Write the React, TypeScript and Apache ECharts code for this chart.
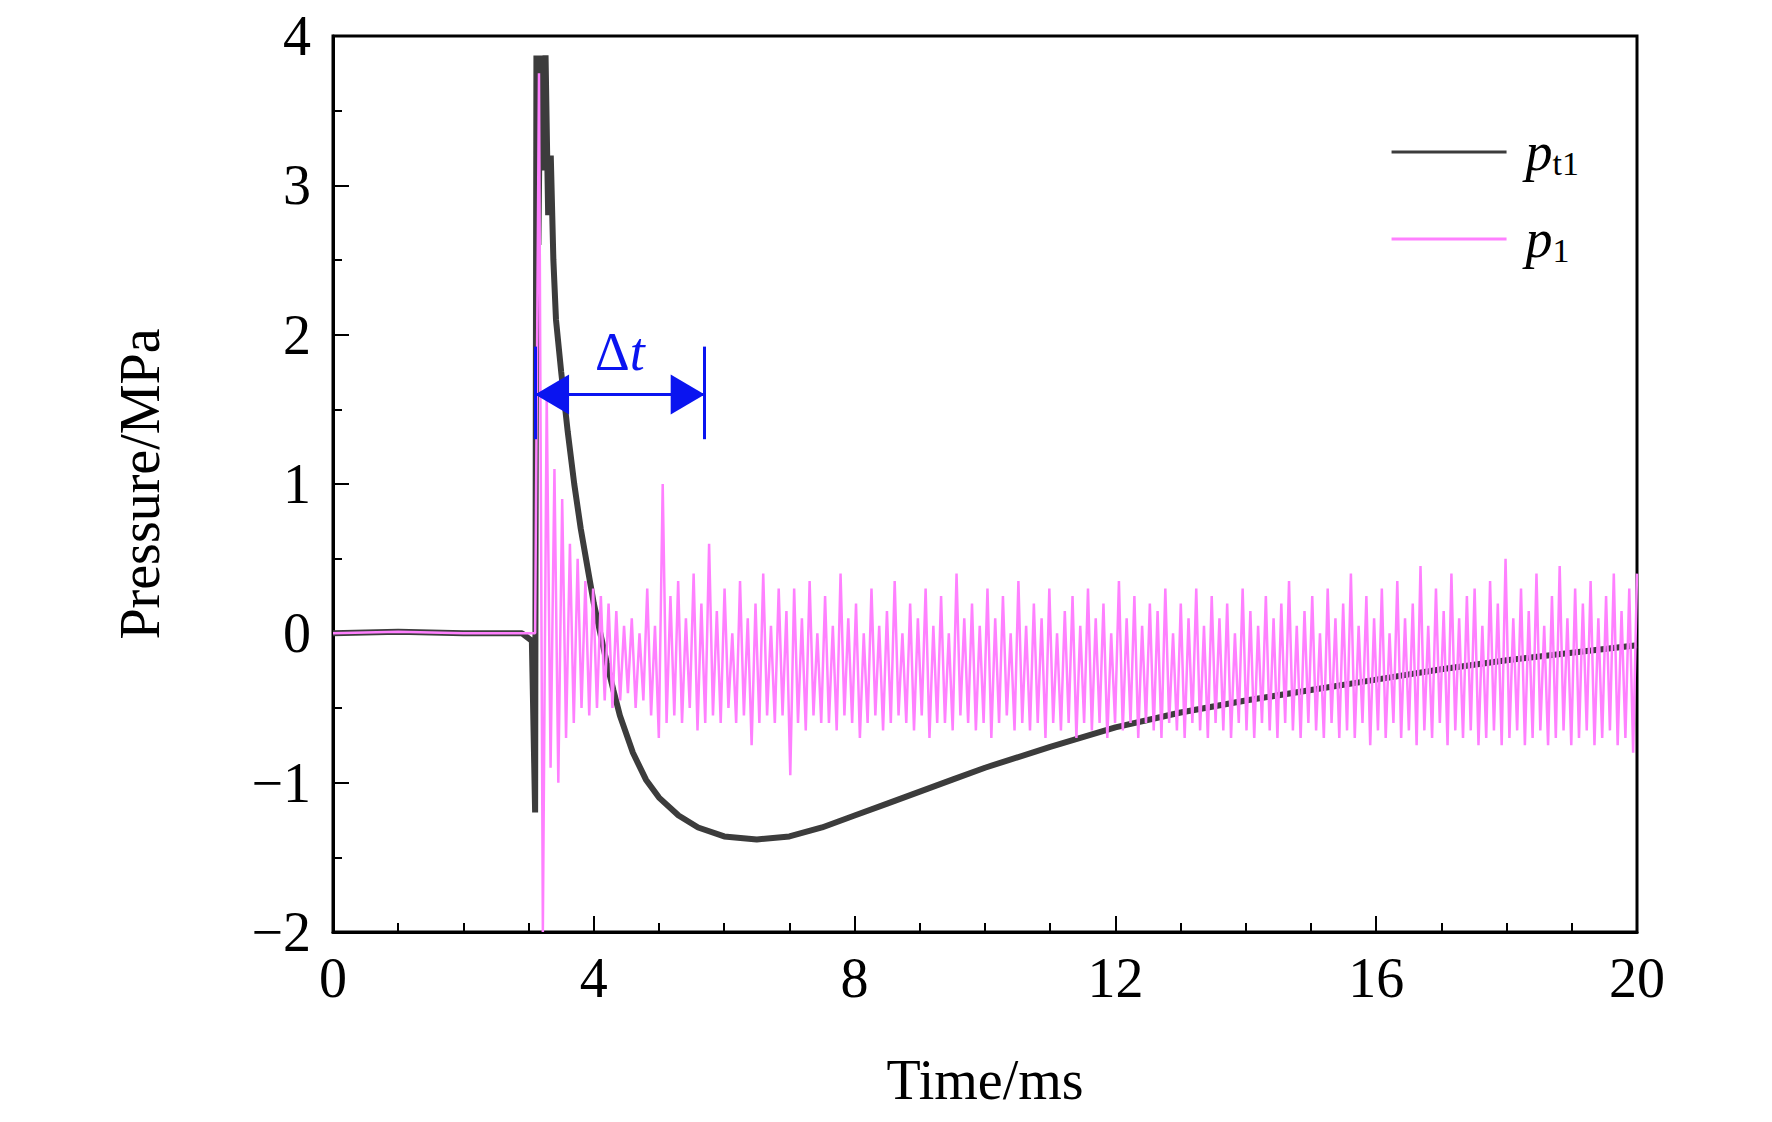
import React, { useEffect, useRef } from 'react';
import * as echarts from 'echarts';

// p_t1 samples (time ms, pressure MPa)
const pt1Time = [0, 1, 2, 2.9, 3.05, 3.1, 3.12, 3.15, 3.18, 3.22, 3.26, 3.3, 3.34, 3.38, 3.42, 3.5, 3.6, 3.7, 3.8, 3.9, 4.0, 4.1, 4.2, 4.3, 4.4, 4.6, 4.8, 5.0, 5.3, 5.6, 6.0, 6.5, 7.0, 7.5, 8.0, 8.5, 9.0, 9.5, 10.0, 11.0, 12.0, 13.0, 14.0, 15.0, 16.0, 17.0, 18.0, 19.0, 20.0];
const pt1Value = [0, 0.01, 0, 0, -0.05, -1.2, 3.87, 2.6, 3.87, 3.1, 3.87, 2.8, 3.2, 2.5, 2.1, 1.75, 1.35, 1.0, 0.7, 0.45, 0.2, 0.0, -0.2, -0.38, -0.55, -0.8, -0.98, -1.1, -1.22, -1.3, -1.36, -1.38, -1.36, -1.3, -1.22, -1.14, -1.06, -0.98, -0.9, -0.76, -0.63, -0.53, -0.45, -0.38, -0.31, -0.24, -0.18, -0.13, -0.08];

// p_1 samples: flat before 3.1 ms, then evenly spaced samples from 3.1 ms to 20 ms
const p1PreTime = [0, 1, 2, 3.0];
const p1PreValue = [0, 0.01, 0, 0];
const p1Start = 3.1;
const p1End = 20;
const p1Value = [
  0, 3.75, -2.0, 1.6, -0.9, 1.1, -1.0, 0.9, -0.7, 0.6, -0.6, 0.5, -0.5, 0.35, -0.55, 0.3,
  -0.5, 0.25, -0.45, 0.2, -0.5, 0.15, -0.45, 0.05, -0.4, 0.1, -0.5, 0.0, -0.45, 0.3, -0.55, 0.05,
  -0.7, 1.0, -0.6, 0.25, -0.55, 0.35, -0.6, 0.1, -0.5, 0.4, -0.65, 0.2, -0.6, 0.6, -0.55, 0.15,
  -0.6, 0.3, -0.5, 0.0, -0.6, 0.35, -0.55, 0.1, -0.75, 0.2, -0.6, 0.4, -0.55, 0.05, -0.6, 0.3,
  -0.55, 0.15, -0.95, 0.3, -0.6, 0.1, -0.65, 0.35, -0.55, 0.0, -0.6, 0.25, -0.6, 0.05, -0.65, 0.4,
  -0.55, 0.1, -0.6, 0.2, -0.7, 0.0, -0.6, 0.3, -0.55, 0.05, -0.65, 0.15, -0.6, 0.35, -0.55, 0.0,
  -0.6, 0.2, -0.65, 0.1, -0.55, 0.3, -0.7, 0.05, -0.6, 0.25, -0.6, 0.0, -0.65, 0.4, -0.55, 0.1,
  -0.6, 0.2, -0.65, 0.05, -0.6, 0.3, -0.7, 0.1, -0.6, 0.25, -0.55, 0.0, -0.65, 0.35, -0.6, 0.05,
  -0.65, 0.2, -0.6, 0.1, -0.7, 0.3, -0.6, 0.0, -0.65, 0.15, -0.6, 0.25, -0.7, 0.05, -0.6, 0.3,
  -0.65, 0.1, -0.6, 0.2, -0.7, 0.0, -0.6, 0.35, -0.65, 0.1, -0.6, 0.25, -0.7, 0.05, -0.6, 0.2,
  -0.65, 0.15, -0.7, 0.3, -0.6, 0.0, -0.65, 0.2, -0.7, 0.1, -0.6, 0.3, -0.65, 0.05, -0.7, 0.25,
  -0.6, 0.1, -0.65, 0.2, -0.7, 0.0, -0.6, 0.3, -0.65, 0.15, -0.7, 0.05, -0.6, 0.25, -0.65, 0.1,
  -0.7, 0.2, -0.6, 0.35, -0.65, 0.05, -0.7, 0.15, -0.6, 0.25, -0.65, 0.0, -0.7, 0.3, -0.6, 0.1,
  -0.7, 0.2, -0.65, 0.4, -0.7, 0.05, -0.6, 0.25, -0.75, 0.1, -0.65, 0.3, -0.7, 0.0, -0.6, 0.35,
  -0.7, 0.1, -0.65, 0.2, -0.75, 0.45, -0.65, 0.05, -0.7, 0.3, -0.6, 0.15, -0.75, 0.4, -0.65, 0.1,
  -0.7, 0.25, -0.65, 0.3, -0.75, 0.05, -0.7, 0.35, -0.65, 0.2, -0.75, 0.5, -0.7, 0.1, -0.65, 0.3,
  -0.75, 0.15, -0.7, 0.4, -0.65, 0.05, -0.75, 0.25, -0.7, 0.45, -0.65, 0.1, -0.75, 0.3, -0.7, 0.2,
  -0.65, 0.35, -0.75, 0.1, -0.7, 0.25, -0.65, 0.4, -0.75, 0.15, -0.7, 0.3, -0.8, 0.4,
];

// delta-t annotation
const dtStart = 3.1;
const dtEnd = 5.7;
const dtArrowY = 1.6;
const dtBarLow = 1.3;
const dtBarHigh = 1.92;
const dtHead = 0.26;

const serif = '"Liberation Serif", "Times New Roman", serif';
const blue = '#0a14f0';

export default function App() {
  const ref = useRef<HTMLDivElement>(null);

  useEffect(() => {
    if (!ref.current) return;
    const chart = echarts.init(ref.current, undefined, { renderer: 'svg' });

    const pt1Data = pt1Time.map((t, i) => [t, pt1Value[i]]);
    const p1Step = (p1End - p1Start) / (p1Value.length - 1);
    const p1Data = [
      ...p1PreTime.map((t, i) => [t, p1PreValue[i]]),
      ...p1Value.map((v, i) => [p1Start + i * p1Step, v]),
    ];

    const axisCommon = {
      axisLine: { onZero: false, lineStyle: { color: '#000', width: 3 } },
      axisTick: { inside: true, length: 16, lineStyle: { color: '#000', width: 2 } },
      minorTick: { show: true, splitNumber: 2, length: 9, lineStyle: { color: '#000', width: 2 } },
      splitLine: { show: false },
      axisLabel: { color: '#000', fontFamily: serif, fontSize: 56 },
      nameTextStyle: { color: '#000', fontFamily: serif, fontSize: 56 },
    };

    chart.setOption({
      animation: false,
      backgroundColor: '#fff',
      grid: { left: 325, right: 127, top: 26, bottom: 182, show: true, borderColor: '#000', borderWidth: 3 },
      xAxis: {
        ...axisCommon,
        type: 'value', min: 0, max: 20, interval: 4,
        minorTick: { ...axisCommon.minorTick, splitNumber: 4 },
        name: 'Time/ms', nameLocation: 'middle', nameGap: 120,
        axisLabel: { ...axisCommon.axisLabel, margin: 18 },
      },
      yAxis: {
        ...axisCommon,
        type: 'value', min: -2, max: 4, interval: 1,
        name: 'Pressure/MPa', nameLocation: 'middle', nameGap: 165,
        axisLabel: { ...axisCommon.axisLabel, margin: 22, formatter: (v: number) => (v < 0 ? '\u2212' + -v : String(v)) },
      },
      legend: {
        orient: 'vertical', right: 180, top: 112, itemWidth: 115, itemHeight: 3, itemGap: 32,
        icon: 'rect',
        data: ['pt1', 'p1'],
        formatter: (name: string) => `{p|p}{s|${name.slice(1)}}`,
        textStyle: {
          fontFamily: serif, padding: [0, 0, 0, 14],
          rich: {
            p: { fontFamily: serif, fontStyle: 'italic', fontSize: 54, color: '#000' },
            s: { fontFamily: serif, fontSize: 34, color: '#000', verticalAlign: 'bottom', padding: [22, 0, 0, 0] },
          },
        },
      },
      series: [
        {
          name: 'pt1', type: 'line', data: pt1Data, showSymbol: false, z: 2,
          lineStyle: { color: '#3c3c3c', width: 6 }, itemStyle: { color: '#3c3c3c' },
        },
        {
          name: 'p1', type: 'line', data: p1Data, showSymbol: false, z: 3,
          lineStyle: { color: '#ff80ff', width: 2.5 }, itemStyle: { color: '#ff80ff' },
          markLine: {
            silent: true, animation: false, label: { show: false },
            lineStyle: { color: blue, width: 3, type: 'solid', opacity: 1 },
            data: [
              [{ coord: [dtStart, dtBarLow], symbol: 'none' }, { coord: [dtStart, dtBarHigh], symbol: 'none' }],
              [{ coord: [dtEnd, dtBarLow], symbol: 'none' }, { coord: [dtEnd, dtBarHigh], symbol: 'none' }],
              [{ coord: [dtStart, dtArrowY], symbol: 'none' }, { coord: [dtEnd, dtArrowY], symbol: 'none' }],
              [{ coord: [dtStart + dtHead, dtArrowY], symbol: 'triangle', symbolSize: [40, 34], symbolRotate: 90 },
               { coord: [dtEnd - dtHead, dtArrowY], symbol: 'triangle', symbolSize: [40, 34], symbolRotate: -90 }],
            ],
          },
        },
      ],
    });

    const [tx, ty] = chart.convertToPixel({ gridIndex: 0 }, [(dtStart + dtEnd) / 2, 1.7]);
    chart.setOption({
      graphic: [{
        type: 'text', x: tx, y: ty, z: 10,
        style: {
          text: '{d|\u0394}{t|t}', align: 'center', verticalAlign: 'bottom',
          rich: {
            d: { fontFamily: serif, fontSize: 54, fill: blue },
            t: { fontFamily: serif, fontSize: 54, fontStyle: 'italic', fill: blue },
          },
        },
      }],
    });

    return () => chart.dispose();
  }, []);

  return <div ref={ref} style={{ width: 1756, height: 1106 }} />;
}
